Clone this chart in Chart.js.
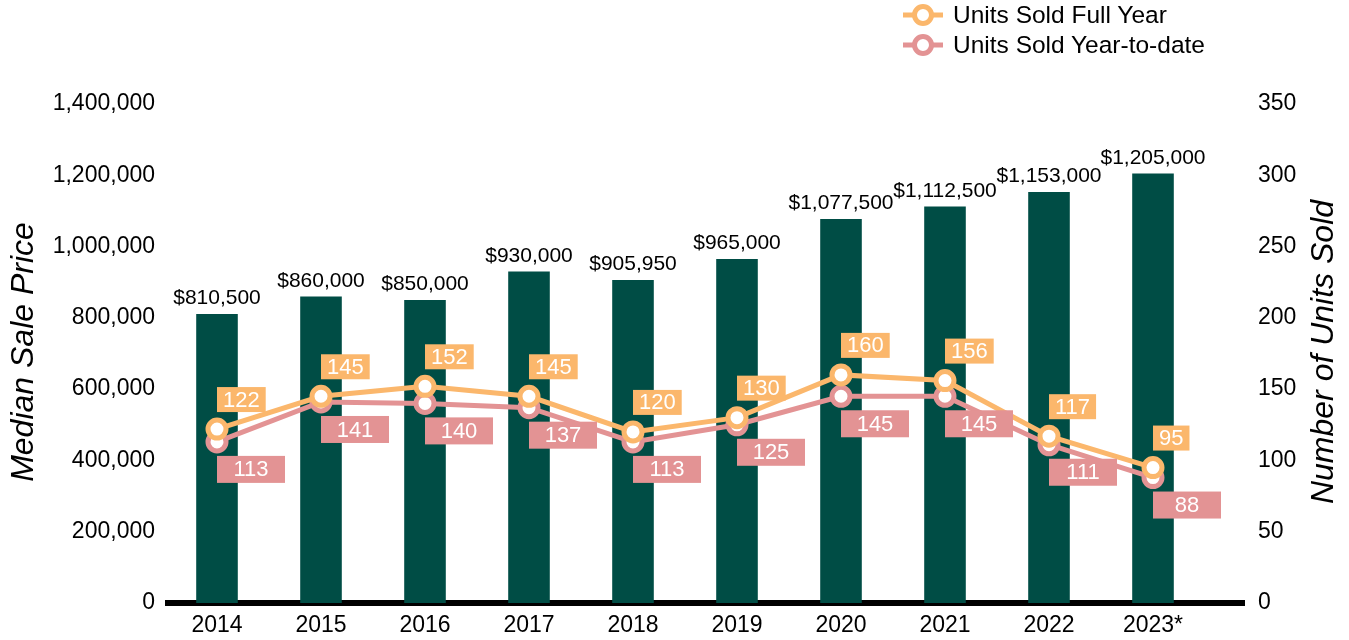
<!DOCTYPE html>
<html>
<head>
<meta charset="utf-8">
<script src="https://cdn.jsdelivr.net/npm/chart.js@4.4.1/dist/chart.umd.min.js"></script>
<style>
  html, body { margin: 0; padding: 0; background: #fff; }
  #wrap { position: relative; width: 1349px; height: 640px; }
  #c { position: absolute; left: 0; top: 0; }
  .lg { position: absolute; left: 903px; height: 26px; font-family: "Liberation Sans", Arial, sans-serif; font-size: 24.5px; line-height: 26px; color: #000; display: flex; align-items: center; white-space: nowrap; }
  .lg canvas { margin-right: 10px; }
</style>
</head>
<body>
<div id="wrap">
  <canvas id="c" width="1349" height="640"></canvas>
  <div class="lg" style="top:2px"><canvas id="lg1" width="40" height="26"></canvas>Units Sold Full Year</div>
  <div class="lg" style="top:32px"><canvas id="lg2" width="40" height="26"></canvas>Units Sold Year-to-date</div>
</div>
<script>
const categories = ['2014','2015','2016','2017','2018','2019','2020','2021','2022','2023*'];
const medianPrice = [810500, 860000, 850000, 930000, 905950, 965000, 1077500, 1112500, 1153000, 1205000];
const unitsFullYear = [122, 145, 152, 145, 120, 130, 160, 156, 117, 95];
const unitsYTD = [113, 141, 140, 137, 113, 125, 145, 145, 111, 88];
const leftTicks = [0, 200000, 400000, 600000, 800000, 1000000, 1200000, 1400000];
const rightTicks = [0, 50, 100, 150, 200, 250, 300, 350];

const BAR = '#004D45';
const ORANGE = '#FBB76C';
const PINK = '#E39394';
const FONT = '"Liberation Sans", Arial, sans-serif';

function drawLegendMarker(id, color) {
  const cv = document.getElementById(id);
  const x = cv.getContext('2d');
  x.strokeStyle = color; x.lineWidth = 5;
  x.beginPath(); x.moveTo(0, 13); x.lineTo(40, 13); x.stroke();
  x.beginPath(); x.arc(20, 13, 8.5, 0, Math.PI * 2);
  x.fillStyle = '#fff'; x.fill(); x.lineWidth = 5; x.stroke();
}
drawLegendMarker('lg1', ORANGE);
drawLegendMarker('lg2', PINK);

const fmt = v => v.toLocaleString('en-US');

const overlay = {
  id: 'overlay',
  beforeDatasetsDraw(chart) {
    const ctx = chart.ctx;
    const ya = chart.scales.y;
    const y0 = ya.getPixelForValue(0);
    ctx.save();
    ctx.fillStyle = '#000';
    ctx.fillRect(165, y0 - 3, 1245 - 165, 6);
    ctx.restore();
  },
  afterDatasetsDraw(chart) {
    const ctx = chart.ctx;
    ctx.save();
    const barMeta = chart.getDatasetMeta(0);
    ctx.font = '21px ' + FONT;
    ctx.fillStyle = '#000';
    ctx.textAlign = 'center';
    ctx.textBaseline = 'bottom';
    barMeta.data.forEach((el, i) => {
      ctx.fillText('$' + fmt(medianPrice[i]), el.x, el.y - 5);
    });
    ctx.font = '22px ' + FONT;
    ctx.textBaseline = 'middle';
    const m1 = chart.getDatasetMeta(1);
    m1.data.forEach((el, i) => {
      const t = String(unitsFullYear[i]);
      const w = ctx.measureText(t).width + 12;
      const h = 25;
      const left = el.x, top = el.y - 17 - h;
      ctx.fillStyle = ORANGE;
      ctx.fillRect(left, top, w, h);
      ctx.fillStyle = '#fff';
      ctx.fillText(t, left + w / 2, top + h / 2 + 1);
    });
    const m2 = chart.getDatasetMeta(2);
    m2.data.forEach((el, i) => {
      const t = String(unitsYTD[i]);
      const w = 68, h = 27;
      const left = el.x, top = el.y + 14;
      ctx.fillStyle = PINK;
      ctx.fillRect(left, top, w, h);
      ctx.fillStyle = '#fff';
      ctx.fillText(t, left + w / 2, top + h / 2 + 1);
    });
    ctx.fillStyle = '#000';
    ctx.font = 'italic 32px ' + FONT;
    ctx.textAlign = 'center';
    ctx.textBaseline = 'middle';
    ctx.translate(24, 352);
    ctx.rotate(-Math.PI / 2);
    ctx.fillText('Median Sale Price', 0, 0);
    ctx.setTransform(1, 0, 0, 1, 0, 0);
    ctx.translate(1324, 352);
    ctx.rotate(-Math.PI / 2);
    ctx.fillText('Number of Units Sold', 0, 0);
    ctx.restore();
  }
};

new Chart(document.getElementById('c'), {
  data: {
    labels: categories,
    datasets: [
      {
        type: 'bar', label: 'Median Sale Price', data: medianPrice,
        backgroundColor: BAR, yAxisID: 'y', order: 3,
        barPercentage: 0.4, categoryPercentage: 1.0
      },
      {
        type: 'line', label: 'Units Sold Full Year', data: unitsFullYear,
        borderColor: ORANGE, backgroundColor: '#fff', borderWidth: 5,
        pointRadius: 9, pointBorderWidth: 5, pointBackgroundColor: '#fff', pointBorderColor: ORANGE,
        yAxisID: 'y1', order: 1, tension: 0
      },
      {
        type: 'line', label: 'Units Sold Year-to-date', data: unitsYTD,
        borderColor: PINK, backgroundColor: '#fff', borderWidth: 5,
        pointRadius: 9, pointBorderWidth: 5, pointBackgroundColor: '#fff', pointBorderColor: PINK,
        yAxisID: 'y1', order: 2, tension: 0
      }
    ]
  },
  options: {
    responsive: false,
    animation: false,
    layout: { padding: { top: 104, left: 0, right: 0, bottom: 0 } },
    plugins: { legend: { display: false }, tooltip: { enabled: false } },
    scales: {
      x: {
        grid: { display: false, drawTicks: false },
        border: { display: false },
        ticks: { color: '#000', font: { family: FONT, size: 23 }, padding: 9, maxRotation: 0 },
        afterFit(s) { s.height = 37; }
      },
      y: {
        position: 'left', min: 0, max: 1400000,
        afterBuildTicks(s) { s.ticks = leftTicks.map(v => ({ value: v })); },
        grid: { display: false, drawTicks: false },
        border: { display: false },
        ticks: { color: '#000', font: { family: FONT, size: 23 }, padding: 10, callback: v => fmt(v) },
        afterFit(s) { s.width = 165; s.paddingTop = 12; s.paddingBottom = 12; }
      },
      y1: {
        position: 'right', min: 0, max: 350,
        afterBuildTicks(s) { s.ticks = rightTicks.map(v => ({ value: v })); },
        grid: { display: false, drawTicks: false },
        border: { display: false },
        ticks: { color: '#000', font: { family: FONT, size: 23 }, padding: 53 },
        afterFit(s) { s.width = 144; s.paddingTop = 12; s.paddingBottom = 12; }
      }
    }
  },
  plugins: [overlay]
});
</script>
</body>
</html>
